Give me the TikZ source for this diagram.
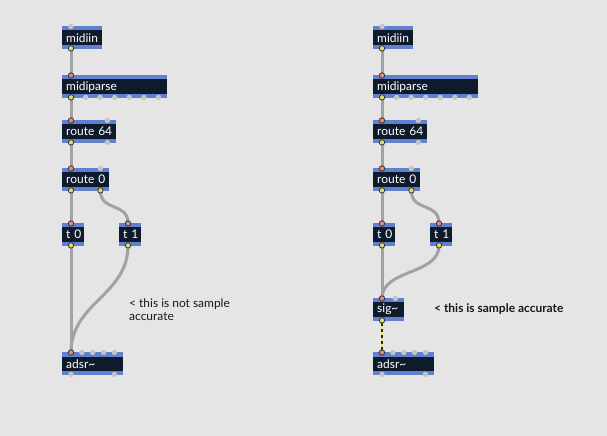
\documentclass[tikz,border=0pt]{standalone}
\usepackage{fontspec}
\setmainfont{Lato}
\usetikzlibrary{calc}
\definecolor{patchbg}{RGB}{229,229,229}
\definecolor{objbody}{RGB}{14,27,44}
\definecolor{objband}{RGB}{96,128,208}
\definecolor{portgrey}{RGB}{196,196,196}
\definecolor{cordgrey}{RGB}{162,162,162}
\definecolor{outyellow}{RGB}{222,222,104}
\definecolor{insalmon}{RGB}{228,140,120}
\definecolor{sigyellow}{RGB}{232,232,112}

% a row of inlets or outlets along one edge of an object box
\newcommand{\portrow}[5]{% node, side, y shift, prefix, count
  \coordinate (#1-#4first) at ($(#1.#2 west)+(9,#3)$);
  \coordinate (#1-#4last) at ($(#1.#2 east)+(-9,#3)$);
  \ifnum#5=1
    \fill[port] (#1-#4first) coordinate (#1-#41) circle (2.7);
  \else
    \foreach \k in {1,...,#5}
      \fill[port] ($(#1-#4first)!{(\k-1)/(#5-1)}!(#1-#4last)$) coordinate (#1-#4\k) circle (2.7);
  \fi}
\newcommand{\ports}[3]{\portrow{#1}{north}{0.5}{in}{#2}\portrow{#1}{south}{-1}{out}{#3}}

\begin{document}
\begin{tikzpicture}[
    x=1bp, y=-1bp,
    obj/.style={anchor=north west, fill=objband, text=white, text width=#1,
      align=left, inner xsep=4bp, inner ysep=0pt, minimum height=23bp,
      font=\fontsize{12}{14}\selectfont,
      path picture={\fill[objbody] ([yshift=-4.3bp]path picture bounding box.north west)
        rectangle ([yshift=4.3bp]path picture bounding box.south east);}},
    port/.style={fill=portgrey},
    cord/.style={draw=cordgrey, line width=3bp},
    sigcord/.style={draw=black!85, line width=2.6bp},
    outport/.style={fill=outyellow, draw=black!80, line width=0.8bp},
    inport/.style={fill=insalmon, draw=black!80, line width=0.8bp},
    note/.style={inner sep=0pt, text=black!90, align=left, font=\fontsize{12}{13.5}\selectfont}
]
\fill[patchbg] (0,0) rectangle (607,436);
\useasboundingbox (0,0) rectangle (607,436);

% not sample accurate
\node[obj=32bp] (midiin) at (62,26) {midiin};
\node[obj=97bp] (midiparse) at (62,75) {midiparse};
\node[obj=46bp] (route) at (62,120) {route~64};
\node[obj=39bp] (routezero) at (62,168) {route~0};
\node[obj=14bp] (tzero) at (62,223) {t~0};
\node[obj=14bp] (tone) at (119,223) {t~1};
\node[obj=53bp] (adsr) at (62,352) {adsr\textasciitilde};
\node[note, anchor=north west] (remark) at (129,298) {< this is not sample\\accurate};

% sample accurate
\node[obj=32bp] (midiin2) at (373,26) {midiin};
\node[obj=97bp] (midiparse2) at (373,75) {midiparse};
\node[obj=46bp] (route2) at (373,120) {route~64};
\node[obj=39bp] (routezero2) at (373,168) {route~0};
\node[obj=14bp] (tzero2) at (373,223) {t~0};
\node[obj=14bp] (tone2) at (430,223) {t~1};
\node[obj=23bp] (sig2) at (373,298) {sig\textasciitilde};
\node[obj=53bp] (adsr2) at (373,352) {adsr\textasciitilde};
\node[note, anchor=west, font=\fontsize{12}{13.5}\selectfont\bfseries] (remark2) at (434,309) {< this is sample accurate};

\foreach \s in {,2} {
  \ports{midiin\s}{1}{1}
  \ports{midiparse\s}{1}{7}
  \ports{route\s}{2}{2}
  \ports{routezero\s}{2}{2}
  \ports{tzero\s}{1}{1}
  \ports{tone\s}{1}{1}
  \ports{adsr\s}{5}{2}
}
\ports{sig2}{2}{1}

\foreach \s in {,2} {
  \draw[cord] (midiin\s-out1) -- (midiparse\s-in1);
  \draw[cord] (midiparse\s-out1) -- (route\s-in1);
  \draw[cord] (route\s-out1) -- (routezero\s-in1);
  \draw[cord] (routezero\s-out1) -- (tzero\s-in1);
  \draw[cord] (routezero\s-out2) .. controls +(0,22) and +(0,-22) .. (tone\s-in1);
}
\draw[cord] (tzero-out1) -- (adsr-in1);
\draw[cord] (tone-out1) .. controls +(0,50) and +(0,-50) .. (adsr-in1);
\draw[cord] (tzero2-out1) -- (sig2-in1);
\draw[cord] (tone2-out1) .. controls +(0,30) and +(0,-30) .. (sig2-in1);
\draw[sigcord] (sig2-out1) -- (adsr2-in1);
\draw[draw=sigyellow, line width=1.4bp, dash pattern=on 3bp off 3bp] (sig2-out1) -- (adsr2-in1);

% connected inlets and outlets
\foreach \p in {midiin-out1, midiparse-out1, route-out1, routezero-out1, routezero-out2,
    tzero-out1, tone-out1, midiin2-out1, midiparse2-out1, route2-out1, routezero2-out1,
    routezero2-out2, tzero2-out1, tone2-out1, sig2-out1}
  \filldraw[outport] (\p) circle (2.7);
\foreach \p in {midiparse-in1, route-in1, routezero-in1, tzero-in1, tone-in1, adsr-in1,
    midiparse2-in1, route2-in1, routezero2-in1, tzero2-in1, tone2-in1, sig2-in1, adsr2-in1}
  \filldraw[inport] (\p) circle (2.7);
\end{tikzpicture}
\end{document}
